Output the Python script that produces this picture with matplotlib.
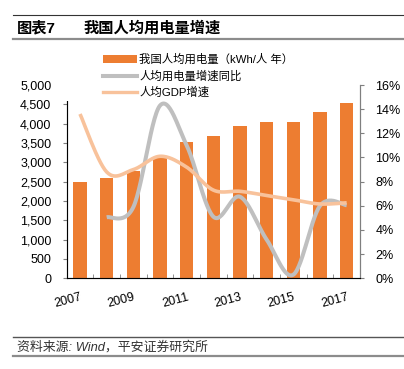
import numpy as np
import matplotlib
matplotlib.use("Agg")
import matplotlib.pyplot as plt
from matplotlib.patches import Rectangle
from matplotlib.lines import Line2D
from matplotlib.ticker import FuncFormatter, FixedLocator

plt.rcParams["font.family"] = ["Liberation Sans", "Noto Sans CJK SC", "DejaVu Sans"]

years = [2007, 2008, 2009, 2010, 2011, 2012, 2013, 2014, 2015, 2016, 2017]
elec_per_capita = [2485, 2605, 2768, 3102, 3514, 3686, 3935, 4050, 4055, 4303, 4542]
elec_growth = [np.nan, 5.05, 5.9, 14.3, 11.0, 5.1, 6.75, 3.2, 0.3, 6.0, 6.05]
gdp_growth = [13.6, 8.8, 9.0, 10.1, 9.2, 7.3, 7.2, 6.85, 6.5, 6.15, 6.25]

BAR = "#ED7D31"
GRAY = "#BFBFBF"
LIGHT = "#F8C29B"
AX_COL = "#7F7F7F"


def smooth(x, y, n=30):
    # excel-style smoothed line: bezier through the points
    x = np.asarray(x, float); y = np.asarray(y, float)
    m = ~np.isnan(y); x, y = x[m], y[m]
    px, py = [], []
    for i in range(len(x) - 1):
        i0, i3 = max(i - 1, 0), min(i + 2, len(x) - 1)
        c1 = (x[i] + (x[i+1] - x[i0]) / 6, y[i] + (y[i+1] - y[i0]) / 6)
        c2 = (x[i+1] - (x[i3] - x[i]) / 6, y[i+1] - (y[i3] - y[i]) / 6)
        t = np.linspace(0, 1, n)[:, None]
        b = ((1-t)**3 * [x[i], y[i]] + 3*(1-t)**2*t * c1
             + 3*(1-t)*t**2 * c2 + t**3 * [x[i+1], y[i+1]])
        px.extend(b[:, 0]); py.extend(b[:, 1])
    return px, py


fig = plt.figure(figsize=(4.04, 3.69), dpi=100)
ax = fig.add_axes([66.7/404, 1-278.3/369, (360-66.7)/404, (278.3-85)/369])
idx = np.arange(len(years))
ax.bar(idx, elec_per_capita, width=0.5, color=BAR, zorder=2)
ax.set_xlim(-0.5, 10.5)
ax.set_ylim(0, 5000)
ax.set_yticks(np.arange(0, 5001, 500))
ax.yaxis.set_major_formatter(FuncFormatter(lambda v, p: f"{v:,.0f}"))
ax.set_xticks(idx[::2])
ax.set_xticklabels([str(y) for y in years[::2]], rotation=15, ha="right",
                   rotation_mode="anchor", fontsize=9)
ax.xaxis.set_minor_locator(FixedLocator(np.arange(-0.5, 11, 1)))
ax.tick_params(axis="x", which="major", length=0, pad=9)
ax.tick_params(axis="x", which="minor", direction="in", length=3, color=AX_COL)
ax.tick_params(axis="y", direction="out", length=3, color=AX_COL, labelsize=9, pad=8)
ax.spines["top"].set_visible(False)
for s in ["left", "bottom", "right"]:
    ax.spines[s].set_color(AX_COL)
    ax.spines[s].set_linewidth(0.8)

ax2 = ax.twinx()
gx, gy = smooth(idx, elec_growth)
ax2.plot(gx, gy, color=GRAY, lw=2.9, solid_capstyle="butt")
ox, oy = smooth(idx, gdp_growth)
ax2.plot(ox, oy, color=LIGHT, lw=2.6, solid_capstyle="butt")
ax2.set_ylim(0, 16)
ax2.set_yticks(np.arange(0, 17, 2))
ax2.yaxis.set_major_formatter(FuncFormatter(lambda v, p: f"{v:.0f}%"))
ax2.tick_params(axis="y", direction="out", length=3, color=AX_COL, labelsize=9, pad=8)
ax2.spines["top"].set_visible(False)
ax2.spines["right"].set_color(AX_COL)
ax2.spines["right"].set_linewidth(0.8)

# legend area hides the top of the plot
fig.add_artist(Rectangle((58/404, 1-101/369), (355-58)/404, 50/369,
                         transform=fig.transFigure, facecolor="white",
                         edgecolor="none", zorder=1))
handles = [Rectangle((0, 0), 1, 1, facecolor=BAR),
           Line2D([], [], color=GRAY, lw=2.9),
           Line2D([], [], color=LIGHT, lw=2.4)]
labels = ["我国人均用电量（kWh/人 年）", "人均用电量增速同比", "人均GDP增速"]
fig.legend(handles, labels, loc="upper left", bbox_to_anchor=(103/404, 1-54/369),
           frameon=False, fontsize=8.2, handlelength=3.0, handletextpad=0.2,
           labelspacing=0.42, borderpad=0, borderaxespad=0, handleheight=0.65)

# header and footer
fig.add_artist(Line2D([13/404, 403/404], [1-15/369]*2, color="#333333", lw=0.8))
fig.add_artist(Line2D([13/404, 403/404], [1-39/369]*2, color="#8C8C8C", lw=1.6))
fig.text(17/404, 1-28/369, "图表7", fontsize=11, fontweight="bold", va="center")
fig.text(84/404, 1-28/369, "我国人均用电量增速", fontsize=11, fontweight="bold", va="center")
fig.add_artist(Line2D([13/404, 403/404], [1-336.7/369]*2, color="#555555", lw=1.0))
fig.add_artist(Line2D([13/404, 403/404], [1-355.7/369]*2, color="#8C8C8C", lw=1.6))
fig.text(17/404, 1-347.5/369, "资料来源: Wind，平安证券研究所", fontsize=9.3,
         style="italic", color="#333333", va="center")

fig.savefig("out.png", dpi=100)
